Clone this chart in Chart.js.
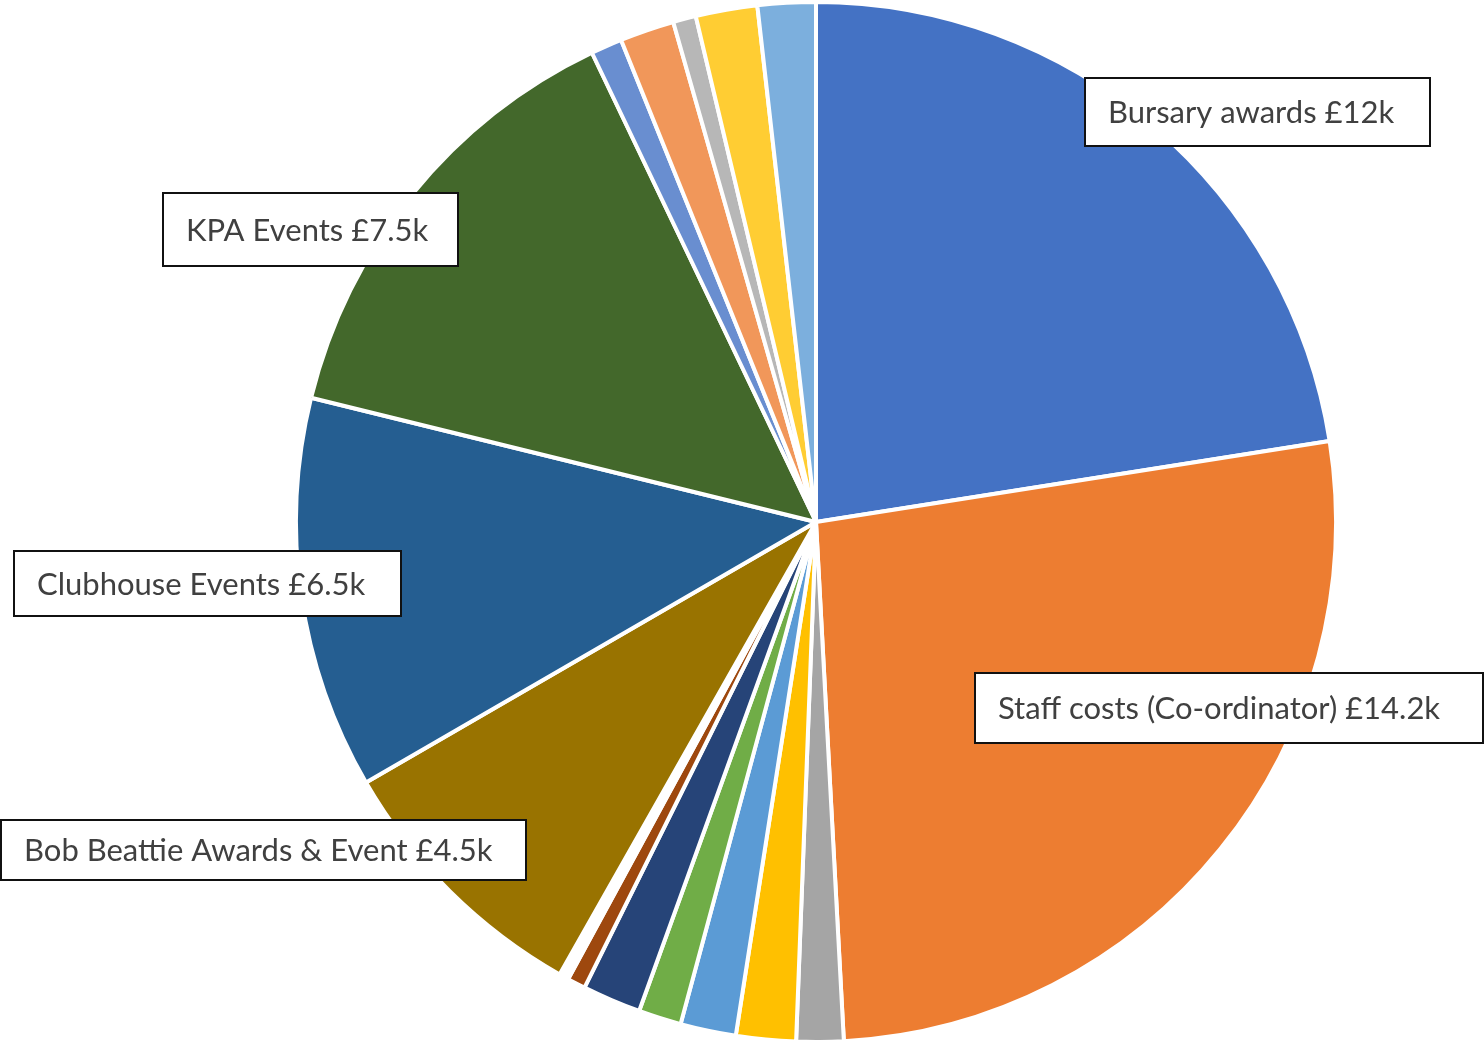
<!DOCTYPE html>
<html>
<head>
<meta charset="utf-8">
<title>Budget pie</title>
<script src="https://cdn.jsdelivr.net/npm/chart.js@4.4.0/dist/chart.umd.min.js"></script>
<style>
  html, body { margin: 0; padding: 0; background: #fff; }
  canvas { display: block; }
</style>
</head>
<body>
<canvas id="budgetPie" width="1484" height="1044"></canvas>
<script>
// data (values in £k), clockwise from 12 o'clock
const categories = [
  "Bursary awards", "Staff costs (Co-ordinator)", "", "", "", "", "", "", "",
  "Bob Beattie Awards & Event", "Clubhouse Events", "KPA Events",
  "", "", "", "", ""
];
const values = [12, 14.2, 0.78, 0.99, 0.92, 0.71, 0.97, 0.3, 0.16, 4.5, 6.5, 7.5, 0.52, 0.9, 0.38, 1.02, 0.96];
const sliceColors = [
  "#4472C4", "#ED7D31", "#A5A5A5", "#FFC000", "#5B9BD5", "#70AD47", "#264478", "#9E480E", "#FFFFFF",
  "#997300", "#255E91", "#43682B", "#698ED0", "#F1975A", "#B7B7B7", "#FFCD33", "#7CAFDD"
];

// label boxes: slice index -> [x, y, w, h]
const labelBoxes = {
  0: [1085, 78, 345, 68],
  1: [975, 673, 508, 70],
  9: [1, 820, 525, 60],
  10: [14, 551, 387, 65],
  11: [163, 193, 295, 73]
};

const boxLabels = {
  id: "boxLabels",
  afterDatasetsDraw(chart) {
    const ctx = chart.ctx;
    const ds = chart.data.datasets[0];
    ctx.save();
    ctx.font = "31px Lato";
    ctx.textAlign = "left";
    ctx.textBaseline = "middle";
    Object.keys(labelBoxes).forEach((k) => {
      const i = +k;
      const [x, y, w, h] = labelBoxes[i];
      ctx.fillStyle = "#fff";
      ctx.fillRect(x, y, w, h);
      ctx.lineWidth = 2;
      ctx.strokeStyle = "#111";
      ctx.strokeRect(x, y, w, h);
      ctx.fillStyle = "#404040";
      const txt = chart.data.labels[i] + " £" + ds.data[i] + "k";
      ctx.fillText(txt, x + 23, y + h / 2 + 1);
    });
    ctx.restore();
  }
};

new Chart(document.getElementById("budgetPie").getContext("2d"), {
  type: "pie",
  data: {
    labels: categories,
    datasets: [{
      data: values,
      backgroundColor: sliceColors,
      borderColor: "#fff",
      borderWidth: 4,
    }],
  },
  options: {
    responsive: false,
    animation: false,
    layout: { padding: { left: 148, right: 0, top: 0, bottom: 0 } },
    plugins: {
      legend: { display: false },
      tooltip: { enabled: false },
    }
  },
  plugins: [boxLabels]
});
</script>
</body>
</html>
